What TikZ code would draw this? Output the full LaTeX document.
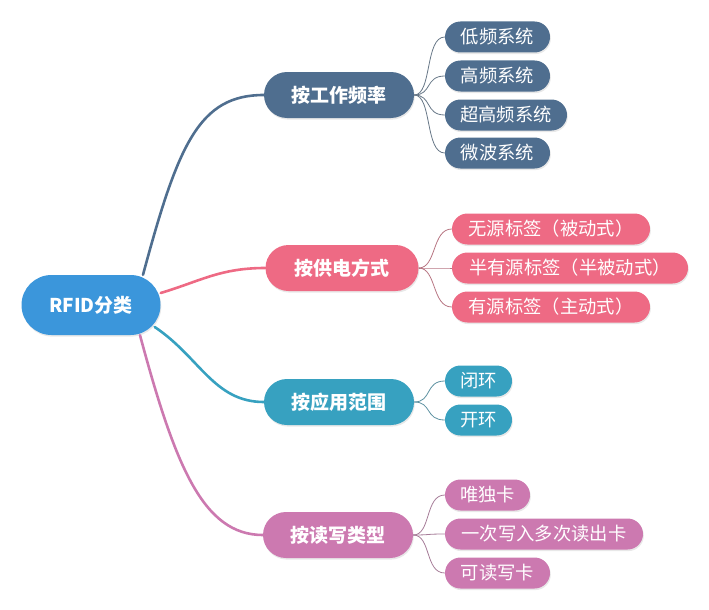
\documentclass[tikz,border=0pt]{standalone}
\usepackage{fontspec}
\setmainfont{Noto Sans CJK SC}
\usetikzlibrary{shapes.misc,shadows}
\definecolor{rootc}{HTML}{3B96DB}
\definecolor{slate}{HTML}{4F6E8F}
\definecolor{pinkc}{HTML}{EE6A84}
\definecolor{tealc}{HTML}{37A1C0}
\definecolor{purpc}{HTML}{CC79B0}
\tikzset{
  pill/.style={rounded rectangle, text=white, inner sep=0pt, draw=none,
    drop shadow={opacity=0.18, shadow xshift=0.8pt, shadow yshift=-1.6pt}},
  rootbox/.style={pill, fill=rootc, minimum width=139pt, minimum height=60pt, font=\fontsize{19}{22}\selectfont\bfseries},
  branchbox/.style={pill, minimum height=46pt, minimum width=150pt, font=\fontsize{19}{22}\selectfont\bfseries},
  leafbox/.style={pill, minimum height=31pt, font=\fontsize{18.3}{21}\selectfont},
  thick link/.style={line width=2.6pt, line cap=round},
  thin link/.style={line width=0.8pt},
}
\begin{document}
\begin{tikzpicture}[x=1pt,y=-1pt]
\useasboundingbox (0,0) rectangle (709,610);

% root
\node[rootbox] (root) at (91,305) {RFID分类};

% branches
\node[branchbox, fill=slate] (b1) at (339,95) {按工作频率};
\node[branchbox, fill=pinkc, minimum width=153pt] (b2) at (342,268) {按供电方式};
\node[branchbox, fill=tealc] (b3) at (339,402) {按应用范围};
\node[branchbox, fill=purpc] (b4) at (338,535) {按读写类型};

% leaves of b1
\node[leafbox, fill=slate, minimum width=105pt] (l11) at (497.5,37) {低频系统};
\node[leafbox, fill=slate, minimum width=105pt] (l12) at (497.5,76) {高频系统};
\node[leafbox, fill=slate, minimum width=122pt] (l13) at (506,115) {超高频系统};
\node[leafbox, fill=slate, minimum width=105pt] (l14) at (497.5,153) {微波系统};

% leaves of b2
\node[leafbox, fill=pinkc, minimum width=198pt] (l21) at (551,229) {无源标签（被动式）};
\node[leafbox, fill=pinkc, minimum width=236pt] (l22) at (570,268) {半有源标签（半被动式）};
\node[leafbox, fill=pinkc, minimum width=198pt] (l23) at (551,307) {有源标签（主动式）};

% leaves of b3
\node[leafbox, fill=tealc, minimum width=67pt] (l31) at (478.5,381) {闭环};
\node[leafbox, fill=tealc, minimum width=67pt] (l32) at (478.5,420) {开环};

% leaves of b4
\node[leafbox, fill=purpc, minimum width=85pt] (l41) at (487.5,495) {唯独卡};
\node[leafbox, fill=purpc, minimum width=198pt] (l42) at (544,534) {一次写入多次读出卡};
\node[leafbox, fill=purpc, minimum width=105pt] (l43) at (497.5,573) {可读写卡};

% root -> branch connectors
\draw[thick link, slate] ([xshift=52pt]root.north) .. controls +(35,-130) and +(-65,0) .. (b1.west);
\draw[thick link, pinkc] ([yshift=12pt]root.east) .. controls +(40,-12) and +(-45,0) .. (b2.west);
\draw[thick link, tealc] ([yshift=-22pt,xshift=-6pt]root.east) .. controls +(45,30) and +(-50,0) .. (b3.west);
\draw[thick link, purpc] ([xshift=49pt]root.south) .. controls +(35,130) and +(-60,0) .. (b4.west);

% branch -> leaf connectors
\foreach \l in {l11,l12,l13,l14}
  \draw[thin link, slate!50!gray] (b1.east) .. controls +(18,0) and +(-20,0) .. (\l.west);
\foreach \l in {l21,l22,l23}
  \draw[thin link, pinkc!50!gray] (b2.east) .. controls +(18,0) and +(-20,0) .. (\l.west);
\foreach \l in {l31,l32}
  \draw[thin link, tealc!50!gray] (b3.east) .. controls +(18,0) and +(-20,0) .. (\l.west);
\foreach \l in {l41,l42,l43}
  \draw[thin link, purpc!50!gray] (b4.east) .. controls +(18,0) and +(-20,0) .. (\l.west);
\end{tikzpicture}
\end{document}
